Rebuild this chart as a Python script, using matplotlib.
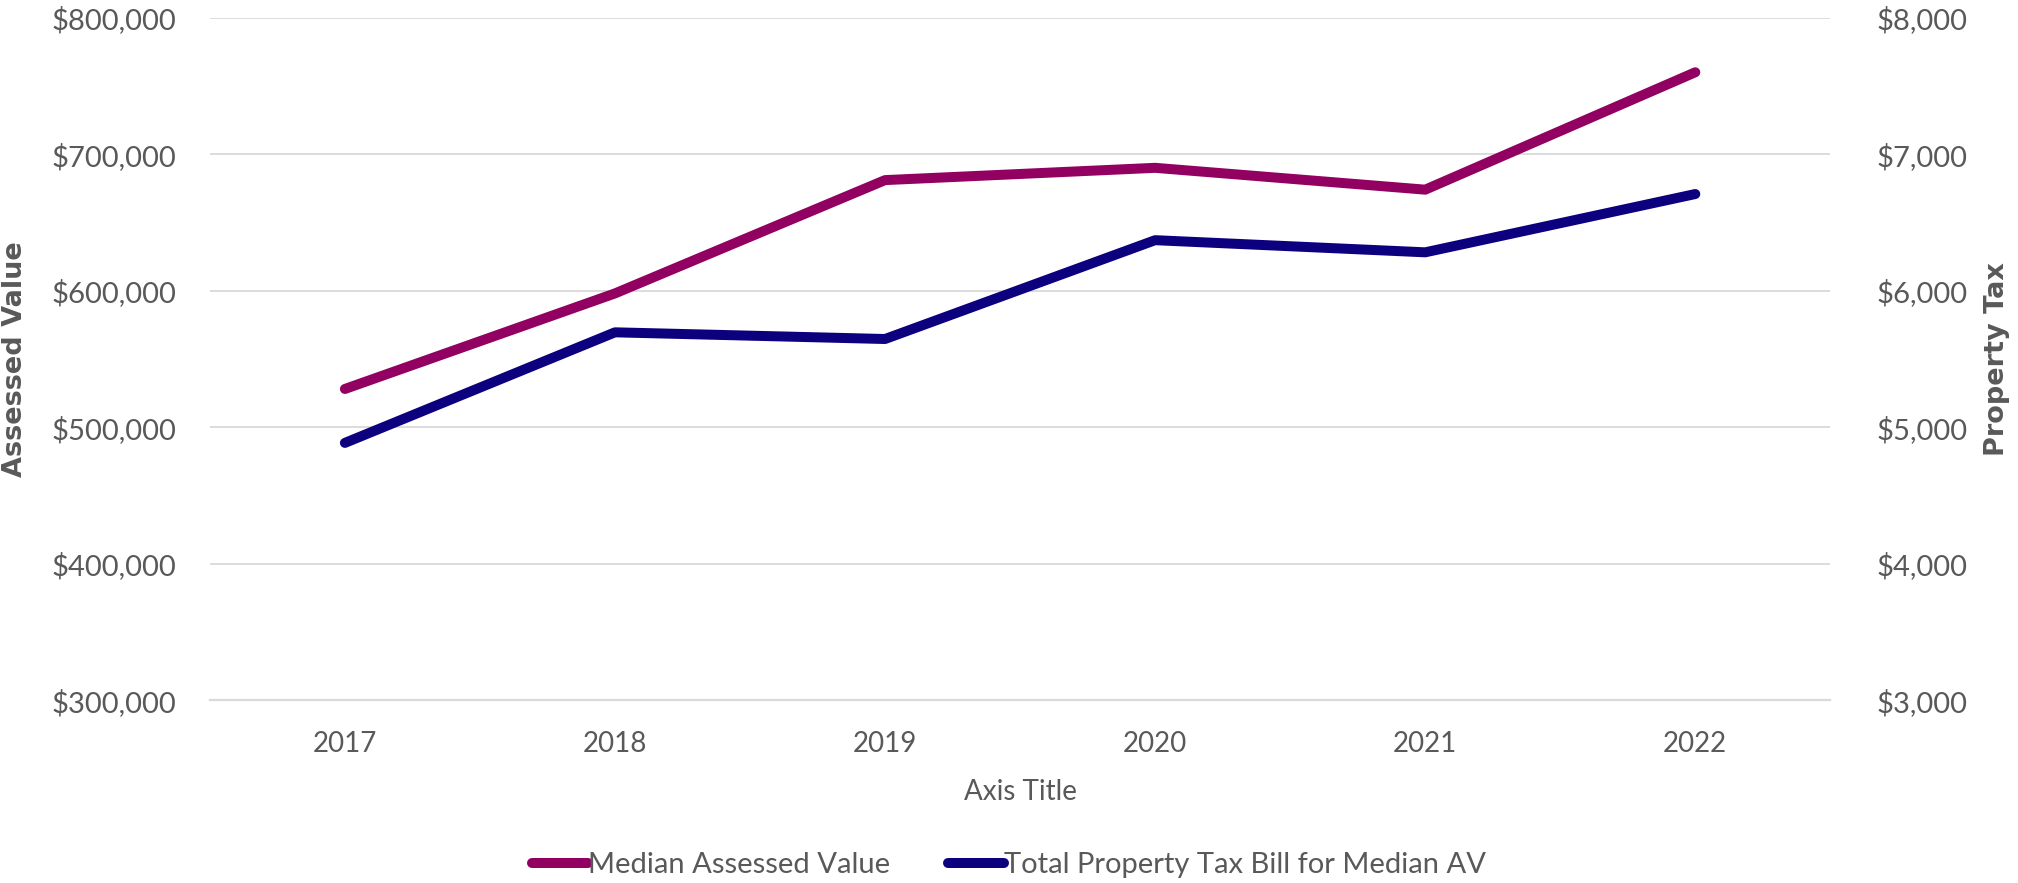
import matplotlib
matplotlib.use("Agg")
import matplotlib.pyplot as plt
from matplotlib.ticker import FuncFormatter, MultipleLocator

years = ["2017", "2018", "2019", "2020", "2021", "2022"]
median_av = [528000, 598000, 681000, 690000, 674000, 760000]
tax_bill = [4885, 5695, 5646, 6370, 6281, 6708]
series_names = ["Median Assessed Value", "Total Property Tax Bill for Median AV"]

C_AV = "#920062"
C_TAX = "#0D007F"
TXT = "#595959"
GRID = "#D9D9D9"
FONT = ["Lato", "DejaVu Sans"]

plt.rcParams["font.family"] = FONT

fig = plt.figure(figsize=(20.18, 8.83), dpi=100)
ax = fig.add_axes([0.104, 0.207, 0.803, 0.773])
ax2 = ax.twinx()

x = list(range(len(years)))
l1, = ax.plot(x, median_av, color=C_AV, lw=7.2, solid_capstyle="round",
              solid_joinstyle="round", label=series_names[0], zorder=3)
l2, = ax2.plot(x, tax_bill, color=C_TAX, lw=7.2, solid_capstyle="round",
               solid_joinstyle="round", label=series_names[1], zorder=3)

ax.set_xlim(-0.5, len(years) - 0.5)
ax.set_ylim(300000, 800000)
ax2.set_ylim(3000, 8000)
ax.yaxis.set_major_locator(MultipleLocator(100000))
ax2.yaxis.set_major_locator(MultipleLocator(1000))
ax.yaxis.set_major_formatter(FuncFormatter(lambda v, p: f"${v:,.0f}"))
ax2.yaxis.set_major_formatter(FuncFormatter(lambda v, p: f"${v:,.0f}"))
ax.set_xticks(x)
ax.set_xticklabels(years)

ax.grid(axis="y", color=GRID, lw=1.3, zorder=0)
ax.set_axisbelow(True)
for a in (ax, ax2):
    for s in ("top", "left", "right", "bottom"):
        a.spines[s].set_visible(False)
ax.spines["bottom"].set_visible(True)
ax.spines["bottom"].set_color(GRID)
ax.spines["bottom"].set_linewidth(1.6)

ax.tick_params(axis="y", length=0, pad=24, labelsize=21, labelcolor=TXT)
ax2.tick_params(axis="y", length=0, pad=33, labelsize=21, labelcolor=TXT)
ax.tick_params(axis="x", length=0, pad=22, labelsize=20, labelcolor=TXT)

ax.set_xlabel("Axis Title", fontsize=20, color=TXT, labelpad=16)
ax.set_ylabel("Assessed Value", fontsize=19.5, color=TXT, fontweight="bold",
              family="DejaVu Sans", va="center")
ax2.set_ylabel("Property Tax", fontsize=19.5, color=TXT, fontweight="bold",
               family="DejaVu Sans", va="center")
ax.yaxis.set_label_coords(-0.120, 0.5)
ax2.yaxis.set_label_coords(1.103, 0.5)

leg = fig.legend([l1, l2], series_names, loc="center", bbox_to_anchor=(0.5, 0.02),
                 ncol=2, frameon=False, fontsize=21, handlelength=1.9,
                 handletextpad=0.0, columnspacing=2.0, labelcolor=TXT)

fig.savefig("out.png", dpi=100)
